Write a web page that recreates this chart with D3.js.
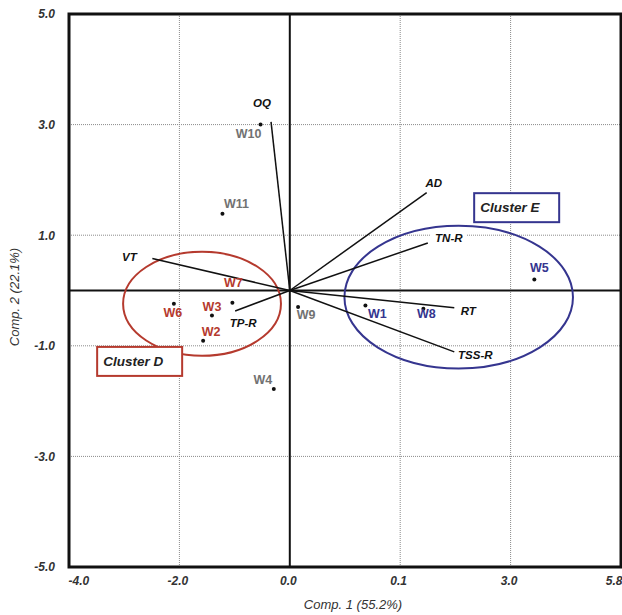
<!DOCTYPE html>
<html>
<head>
<meta charset="utf-8">
<script src="https://cdn.jsdelivr.net/npm/d3@7"></script>
<style>
  html, body { margin: 0; padding: 0; background: #fff; }
  svg { display: block; font-family: "Liberation Sans", Arial, sans-serif; }
</style>
</head>
<body>
<div id="biplot_chart"></div>
<script>
// sample scores
const sites = ["W1", "W2", "W3", "W4", "W5", "W6", "W7", "W8", "W9", "W10", "W11"];
const siteX = [1.37, -1.57, -1.41, -0.29, 4.43, -2.10, -1.04, 2.42, 0.15, -0.53, -1.22];
const siteY = [-0.27, -0.91, -0.45, -1.78, 0.20, -0.24, -0.22, -0.33, -0.30, 3.00, 1.39];
const siteCluster = ["E", "D", "D", "", "E", "D", "D", "E", "", "", ""];

// variable loadings
const varNames = ["OQ", "VT", "TP-R", "AD", "TN-R", "RT", "TSS-R"];
const varX = [-0.34, -2.49, -0.99, 2.48, 2.50, 2.98, 2.98];
const varY = [3.05, 0.58, -0.37, 1.77, 0.86, -0.31, -1.11];

// cluster ellipses
const clusters = ["D", "E"];
const clusterCx = [-1.59, 3.06];
const clusterCy = [-0.24, -0.12];
const clusterRx = [1.43, 2.07];
const clusterRy = [0.94, 1.29];

// axis ticks (labels as printed on the original)
const xTicks = [-4, -2, 0, 2, 4, 6];
const xTickLabels = ["-4.0", "-2.0", "0.0", "0.1", "3.0", "5.8"];
const yTicks = [5, 3, 1, -1, -3, -5];
const yTickLabels = ["5.0", "3.0", "1.0", "-1.0", "-3.0", "-5.0"];

// layout only
const clusterColor = {D: "#b53a2e", E: "#35358f", "": "#727272"};
const siteLabelOffset = {
    W1: [12, 8], W2: [8, -9], W3: [0, -9], W4: [-11, -9], W5: [5, -12], W6: [-1, 9],
    W7: [1, -20], W8: [3, 5], W9: [8, 8], W10: [-12, 9], W11: [14, -10]
};
const varLabelOffset = {
    "OQ": [-9, -19], "VT": [-23, -1], "TP-R": [8, 12], "AD": [7, -10],
    "TN-R": [21, -5], "RT": [14, 3], "TSS-R": [21, 3]
};
const clusterBox = {D: [-3.49, -1.02], E: [3.34, 1.76]};

const width = 622, height = 615;
const x = d3.scaleLinear().domain([-4, 6]).range([69, 621]);
const y = d3.scaleLinear().domain([-5, 5]).range([567, 14]);

const svg = d3.select("#biplot_chart").append("svg")
    .attr("width", width).attr("height", height);

// grid
svg.append("g").selectAll("line").data([-2, 2, 4]).join("line")
    .attr("x1", d => x(d)).attr("x2", d => x(d))
    .attr("y1", y(5)).attr("y2", y(-5))
    .attr("stroke", "#8a8a8a").attr("stroke-width", 1).attr("stroke-dasharray", "1,1");
svg.append("g").selectAll("line").data([3, 1, -1, -3]).join("line")
    .attr("x1", x(-4)).attr("x2", x(6))
    .attr("y1", d => y(d)).attr("y2", d => y(d))
    .attr("stroke", "#8a8a8a").attr("stroke-width", 1).attr("stroke-dasharray", "1,1");

// zero lines
svg.append("line").attr("x1", x(0)).attr("x2", x(0)).attr("y1", y(5)).attr("y2", y(-5))
    .attr("stroke", "#111").attr("stroke-width", 2);
svg.append("line").attr("x1", x(-4)).attr("x2", x(6)).attr("y1", y(0)).attr("y2", y(0))
    .attr("stroke", "#111").attr("stroke-width", 2);

// frame
svg.append("rect").attr("x", x(-4)).attr("y", y(5))
    .attr("width", x(6) - x(-4)).attr("height", y(-5) - y(5))
    .attr("fill", "none").attr("stroke", "#111").attr("stroke-width", 3);

// axes
const xAxis = svg.append("g").attr("transform", `translate(0,${y(-5)})`)
    .call(d3.axisBottom(x).tickValues(xTicks).tickSize(0).tickPadding(9)
        .tickFormat((d, i) => xTickLabels[i]));
const yAxis = svg.append("g").attr("transform", `translate(${x(-4)},0)`)
    .call(d3.axisLeft(y).tickValues(yTicks).tickSize(0).tickPadding(14)
        .tickFormat((d, i) => yTickLabels[i]));
[xAxis, yAxis].forEach(a => {
    a.select(".domain").remove();
    a.selectAll("text").attr("font-size", 12).attr("font-weight", "bold")
        .attr("font-style", "italic").attr("fill", "#333")
        .attr("font-family", "'Liberation Sans', Arial, sans-serif");
});
xAxis.selectAll("text").attr("text-anchor", (d, i) => i === 0 ? "start" : i === xTicks.length - 1 ? "end" : "middle")
    .attr("dx", (d, i) => i === 0 ? -1 : i === xTicks.length - 1 ? 1 : -2);

// axis titles
svg.append("text").attr("x", 353).attr("y", 609).attr("text-anchor", "middle")
    .attr("font-size", 13).attr("font-style", "italic").attr("fill", "#333")
    .text("Comp. 1 (55.2%)");
svg.append("text").attr("transform", "translate(19,297) rotate(-90)").attr("text-anchor", "middle")
    .attr("font-size", 13).attr("font-style", "italic").attr("fill", "#333")
    .text("Comp. 2 (22.1%)");

// cluster ellipses
svg.append("g").selectAll("ellipse").data(clusters).join("ellipse")
    .attr("cx", (d, i) => x(clusterCx[i])).attr("cy", (d, i) => y(clusterCy[i]))
    .attr("rx", (d, i) => x(clusterRx[i]) - x(0)).attr("ry", (d, i) => y(0) - y(clusterRy[i]))
    .attr("fill", "none").attr("stroke", d => clusterColor[d]).attr("stroke-width", 2);

// cluster boxes
const boxes = svg.append("g").selectAll("g").data(clusters).join("g")
    .attr("transform", d => `translate(${x(clusterBox[d][0])},${y(clusterBox[d][1])})`);
boxes.append("rect").attr("width", 85).attr("height", 29)
    .attr("fill", "#fff").attr("stroke", d => clusterColor[d]).attr("stroke-width", 2);
boxes.append("text").attr("x", 6).attr("y", 19)
    .attr("font-size", 13.5).attr("font-weight", "bold").attr("font-style", "italic").attr("fill", "#222")
    .text(d => "Cluster " + d);

// loading vectors
const vecs = svg.append("g");
vecs.selectAll("line").data(varNames).join("line")
    .attr("x1", x(0)).attr("y1", y(0))
    .attr("x2", (d, i) => x(varX[i])).attr("y2", (d, i) => y(varY[i]))
    .attr("stroke", "#111").attr("stroke-width", 1.5);
const vlab = vecs.selectAll("g").data(varNames).join("g")
    .attr("transform", (d, i) => `translate(${x(varX[i]) + varLabelOffset[d][0]},${y(varY[i]) + varLabelOffset[d][1]})`);
vlab.filter(d => d === "TN-R").append("rect")
    .attr("x", -18).attr("y", -8).attr("width", 36).attr("height", 16).attr("fill", "#fff");
vlab.append("text").attr("text-anchor", "middle").attr("dy", "0.35em")
    .attr("font-size", 11.5).attr("font-weight", "bold").attr("font-style", "italic").attr("fill", "#111")
    .text(d => d);

// sample points
const pts = svg.append("g");
pts.selectAll("circle").data(sites).join("circle")
    .attr("cx", (d, i) => x(siteX[i])).attr("cy", (d, i) => y(siteY[i]))
    .attr("r", 2).attr("fill", "#111");
pts.selectAll("text").data(sites).join("text")
    .attr("x", (d, i) => x(siteX[i]) + siteLabelOffset[d][0])
    .attr("y", (d, i) => y(siteY[i]) + siteLabelOffset[d][1])
    .attr("text-anchor", "middle").attr("dy", "0.35em")
    .attr("font-size", 12.5).attr("font-weight", "bold")
    .attr("fill", (d, i) => clusterColor[siteCluster[i]])
    .text(d => d);
</script>
</body>
</html>
